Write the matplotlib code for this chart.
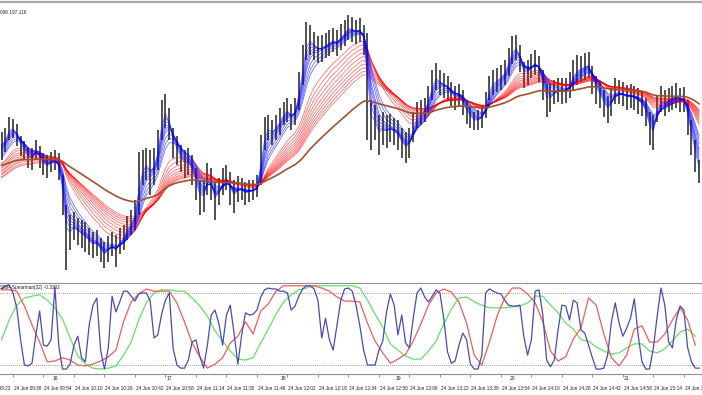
import numpy as np
import matplotlib as mpl
mpl.use('Agg')
import matplotlib.pyplot as plt
from matplotlib.transforms import blended_transform_factory

# ---- price bars: high / low in pips above 196.00, one bar every 2 minutes from 09:32
start_min = 32
step_min = 2
hi_pips = [158,162,173,171,166,154,149,142,142,150,
           144,137,135,138,140,137,115,85,75,78,
           72,70,68,62,58,60,52,48,54,58,
           55,62,65,74,80,90,138,140,142,140,
           142,160,190,196,182,162,154,145,140,142,
           135,122,110,110,127,122,108,112,122,125,
           118,110,114,112,108,110,110,115,155,173,
           175,170,175,182,188,192,186,192,218,245,
           268,265,258,254,255,257,260,262,260,266,
           270,275,273,270,272,265,257,190,185,175,
           178,175,176,172,170,162,158,162,178,188,
           190,192,204,220,227,220,217,214,208,204,
           206,200,190,184,178,180,185,198,214,220,
           222,225,230,242,254,255,245,228,230,236,
           240,234,220,206,206,210,212,212,212,218,
           230,235,234,237,238,224,214,208,200,194,
           202,212,210,208,205,206,204,202,198,192,
           178,175,195,204,200,202,204,207,202,203,
           190,170,150,130]
lo_pips = [130,138,150,152,144,134,130,122,120,130,
           122,115,112,118,120,110,75,20,40,50,
           45,42,38,35,32,34,28,22,28,34,
           23,36,40,50,55,60,75,105,110,95,
           105,120,150,162,150,132,125,118,112,115,
           105,90,75,78,95,90,70,85,95,100,
           85,77,88,90,85,88,90,93,105,140,
           150,145,150,155,165,168,160,165,180,205,
           230,235,230,227,228,232,234,238,234,240,
           244,250,248,246,248,235,150,140,150,135,
           145,142,148,145,140,132,127,132,148,162,
           165,168,177,190,200,195,192,190,184,180,
           183,175,166,162,160,160,162,172,190,195,
           198,200,205,214,226,230,218,202,205,212,
           215,208,190,173,178,186,188,186,187,192,
           200,205,208,210,212,196,186,182,173,167,
           174,186,186,184,180,182,180,176,174,164,
           145,140,168,178,174,178,180,182,178,178,
           155,135,118,107]

# ---- GMMA style moving averages (periods in bars), seeded with values at the left edge
blue_periods = [1.5, 2, 2.5, 3, 3.5, 4, 5, 6, 7]
blue_seed = [148, 145, 142, 140, 138, 136, 133, 130, 128]
red_periods = [12, 14, 16, 18, 20, 22, 24, 26, 28, 30]
red_seed = [123, 122, 120, 119, 117, 116, 114, 113, 111, 110]
brown_period = 50
brown_seed = 124

# ---- Spearman window
spear_fast = [0.89, 0.96, 0.98, 0.80, 0.47, -0.24, -0.80, -0.82, -0.76, -0.13,
              0.40, -0.36, -0.38, -0.24, 0.93, -0.36, -0.89, -0.89, -0.78, -0.36,
              -0.16, -0.64, -0.73, 0.09, 0.53, 0.69, -0.47, -0.89, -0.42, 0.73,
              0.38, 0.60, 0.84, 0.84, 0.73, 0.62, 0.78, 0.80, 0.80, 0.62,
              -0.20, -0.13, 0.33, 0.64, 0.80, -0.42, -0.80, -0.87, -0.87, -0.69,
              -0.29, -0.24, -0.60, -0.87, -0.36, 0.31, 0.42, 0.13, -0.36, 0.31,
              0.53, -0.09, -0.78, -0.13, 0.36, 0.31, 0.33, 0.42, 0.71, 0.87,
              0.91, 0.89, 0.89, 0.84, 0.84, 0.80, 0.42, 0.51, 0.73, 0.89,
              0.96, 0.96, 0.89, 0.64, -0.20, 0.24, -0.24, -0.47, 0.09, 0.64,
              0.89, 0.91, 0.84, 0.53, 0.07, -0.47, -0.80, -0.80, -0.80, -0.47,
              -0.27, 0.38, 0.78, 0.53, -0.13, 0.31, -0.31, -0.42, 0.24, 0.80,
              0.91, 0.71, 0.60, 0.73, 0.87, 0.80, 0.24, -0.51, -0.76, -0.71,
              -0.36, -0.09, -0.24, -0.78, -0.89, -0.89, -0.58, 0.80, 0.89, 0.84,
              0.80, 0.78, 0.64, 0.53, 0.51, 0.51, 0.53, -0.16, -0.58, -0.24,
              0.84, 0.87, 0.31, -0.69, -0.84, -0.69, -0.02, 0.53, 0.51, 0.20,
              0.64, 0.58, -0.02, -0.09, -0.36, -0.64, -0.89, -0.89, -0.87, -0.58,
              0.16, 0.58, 0.13, -0.16, 0.02, 0.24, 0.67, -0.13, -0.73, -0.89,
              -0.89, -0.42, 0.29, 0.91, 0.53, -0.29, -0.42, 0.20, 0.51, 0.42,
              -0.42, -0.73, -0.87, -0.87]
# every second bar
spear_mid = [0.87, 0.87, 0.84, 0.51, 0.09, -0.29, -0.73, -0.71, -0.64, -0.69,
             -0.80, -0.82, -0.78, -0.71, -0.62, -0.47, 0.16, 0.60, 0.78, 0.89,
             0.84, 0.84, 0.84, 0.58, 0.16, -0.31, -0.62, -0.87, -0.78, -0.64,
             -0.31, -0.16, 0.16, -0.11, 0.40, 0.56, 0.84, 0.96, 0.96, 0.96,
             0.96, 0.96, 0.91, 0.84, 0.71, 0.62, 0.62, 0.60, 0.13, -0.27,
             -0.53, -0.76, -0.67, -0.56, -0.27, 0.11, 0.53, 0.80, 0.89, 0.82,
             0.60, 0.13, -0.58, -0.80, -0.29, 0.29, 0.69, 0.91, 0.91, 0.78,
             0.58, 0.16, -0.49, -0.71, -0.62, -0.22, 0.02, 0.69, 0.53, -0.11,
             -0.64, -0.82, -0.58, 0.00, 0.07, -0.29, -0.29, -0.11, 0.20, 0.47,
             0.20, -0.36]
spear_slow = [-0.24, 0.20, 0.53, 0.69, 0.73, 0.76, 0.64, 0.47, 0.22, -0.20,
              -0.60, -0.78, -0.87, -0.89, -0.87, -0.82, -0.58, -0.29, 0.20, 0.58,
              0.80, 0.87, 0.87, 0.84, 0.84, 0.69, 0.51, 0.29, -0.04, -0.27,
              -0.49, -0.67, -0.69, -0.64, -0.31, 0.00, 0.33, 0.60, 0.76, 0.87,
              0.91, 0.96, 0.96, 0.96, 0.96, 0.96, 0.96, 0.91, 0.64, 0.33,
              0.04, -0.33, -0.47, -0.60, -0.67, -0.67, -0.49, -0.27, 0.11, 0.44,
              0.69, 0.71, 0.60, 0.53, 0.47, 0.47, 0.47, 0.49, 0.51, 0.58,
              0.73, 0.73, 0.53, 0.36, 0.13, 0.00, -0.24, -0.27, -0.40, -0.49,
              -0.56, -0.53, -0.42, -0.33, -0.33, -0.49, -0.53, -0.44, -0.27, -0.07,
              0.00, -0.16]
spear_level = 0.8

# ---- time scale
hour_labels = ['16', '17', '18', '19', '20', '21']
hour_minutes = [60, 120, 180, 240, 300, 360]
time_minutes = list(range(22, 391, 16))


def ema(vals, n, seed):
    a = 2.0 / (n + 1)
    out = np.empty(len(vals))
    e = seed
    for i, v in enumerate(vals):
        e = e + a * (v - e)
        out[i] = e
    return out


hi = 196 + np.array(hi_pips) / 100.0
lo = 196 + np.array(lo_pips) / 100.0
mid = (hi + lo) / 2
t = start_min + step_min * np.arange(len(hi))
t2 = t[::2]

fig = plt.figure(figsize=(7.02, 3.95), dpi=100)
W, H = 702.0, 395.0
ax = fig.add_axes([0, 1 - 281 / H, 1, 279 / H])
ax2 = fig.add_axes([0, 1 - 374 / H, 1, 91 / H])

xmin, xmax = 31.2, 31.2 + W / 1.906

# main chart
ax.vlines(t, lo, hi, color='#3c3c3c', lw=1.25, zorder=2)
for n, s in zip(red_periods, red_seed):
    ax.plot(t, ema(mid, n, 196 + s / 100.0), color='#ff0000', lw=0.6, alpha=0.55, zorder=3)
for n, s in zip(blue_periods, blue_seed):
    ax.plot(t, ema(mid, n, 196 + s / 100.0), color='#0000ff', lw=0.6, alpha=0.55, zorder=4)
ax.plot(t, ema(mid, brown_period, 196 + brown_seed / 100.0), color='#a0522d', lw=1.2, zorder=5)
ax.set_xlim(xmin, xmax)
ax.set_ylim(196.09, 198.88)
ax.set_xticks([])
ax.set_yticks([])
for side in ['left', 'right', 'bottom']:
    ax.spines[side].set_visible(False)
ax.spines['top'].set_color('#a8a8a8')
ax.spines['top'].set_linewidth(1.6)
ax.text(0.0, 1 - 10 / 279.0, '098 197.116', transform=ax.transAxes, fontsize=3.4,
        family='Liberation Sans', color='#202020', va='center', ha='left')

# Spearman window
ax2.axhline(spear_level, color='#808080', lw=0.6, ls=(0, (1, 1.5)))
ax2.axhline(-spear_level, color='#808080', lw=0.6, ls=(0, (1, 1.5)))
ax2.plot(t2, spear_slow, color='#66e066', lw=0.9)
ax2.plot(t2, spear_mid, color='#f25c5c', lw=0.9)
ax2.plot(t, spear_fast, color='#4a4ab8', lw=0.9)
ax2.set_xticks(time_minutes)
ax2.set_xticklabels([])
ax2.tick_params(axis='x', length=2, width=0.5, color='#606060', direction='out')
ax2.set_xlim(xmin, xmax)
ax2.set_ylim(-1.0, 1.022)
ax2.set_yticks([])
for side in ['left', 'right']:
    ax2.spines[side].set_visible(False)
for side in ['top', 'bottom']:
    ax2.spines[side].set_color('#909090')
    ax2.spines[side].set_linewidth(0.8)
ax2.text(0.0, 1 - 4 / 91.0, 'SMP-Spearman(32) -0.3202', transform=ax2.transAxes,
         fontsize=3.4, family='Liberation Sans', color='#202020', va='center', ha='left')

tr = blended_transform_factory(ax2.transData, ax2.transAxes)
for m in time_minutes:
    lab = '24 Jun %02d:%02d' % (9 + m // 60, m % 60)
    ax2.text(m + 0.5, -14 / 91.0, lab, transform=tr, fontsize=3.4, family='Liberation Sans',
             color='#202020', va='center', ha='left', clip_on=False)
for m, lab in zip(hour_minutes, hour_labels):
    ax2.text(m, -4.5 / 91.0, lab, transform=tr, fontsize=3.6, family='Liberation Sans',
             color='#202020', va='center', ha='center', clip_on=False)

fig.savefig('out.png', dpi=100, facecolor='white')
